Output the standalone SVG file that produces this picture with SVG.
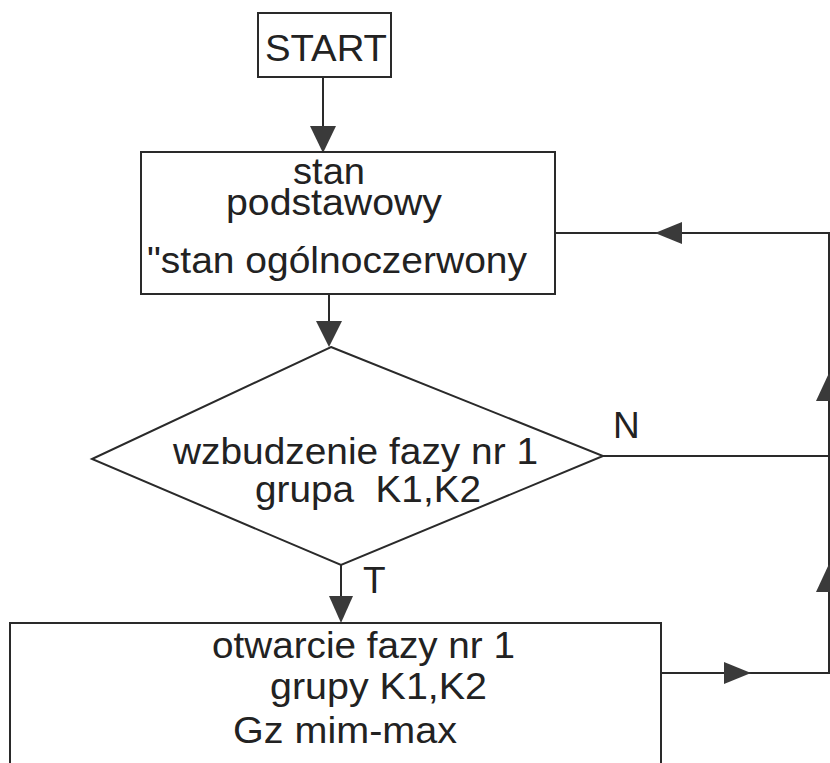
<svg xmlns="http://www.w3.org/2000/svg" width="830" height="763" viewBox="0 0 830 763">
<defs>
<style>
.box{fill:#fff;stroke:#2a2a2a;stroke-width:2}
.ln{fill:none;stroke:#2a2a2a;stroke-width:2}
.ah{fill:#3a3a3a;stroke:none}
.t{font-family:"Liberation Sans",Arial,sans-serif;font-size:37px;fill:#222}
</style>
</defs>
<rect width="830" height="763" fill="#fff"/>
<g id="connectors">
<line class="ln" x1="323" y1="77" x2="323" y2="150"/>
<polygon class="ah" points="310,126 336,126 323,153"/>
<line class="ln" x1="329" y1="294" x2="329" y2="344"/>
<polygon class="ah" points="316,321 342,321 329,347"/>
<line class="ln" x1="341" y1="565" x2="341" y2="620"/>
<polygon class="ah" points="329,596 353,596 341,623"/>
<polyline class="ln" points="555,233 829,233 829,673 661,673"/>
<line class="ln" x1="603" y1="456" x2="829" y2="456"/>
<polygon class="ah" points="655,233 682,222 682,244"/>
<polygon class="ah" points="751,673 724,662 724,684"/>
<polygon class="ah" points="829,373 816,401 842,401"/>
<polygon class="ah" points="829,564 816,592 842,592"/>
<text class="t" x="613" y="438" font-size="36">N</text>
<text class="t" x="363" y="593" font-size="36">T</text>
</g>
<g id="start">
<rect class="box" x="258" y="13" width="133" height="64"/>
<text class="t" x="265" y="61" font-size="40" textLength="122" lengthAdjust="spacingAndGlyphs">START</text>
</g>
<g id="stan-podstawowy">
<rect class="box" x="141" y="152" width="414" height="142"/>
<text class="t" x="293" y="184" font-size="35" textLength="72" lengthAdjust="spacingAndGlyphs">stan</text>
<text class="t" x="226" y="215" font-size="35" textLength="216" lengthAdjust="spacingAndGlyphs">podstawowy</text>
<text class="t" x="147" y="273" textLength="380" lengthAdjust="spacingAndGlyphs">"stan ogólnoczerwony</text>
</g>
<g id="wzbudzenie">
<polygon class="box" points="331,347 603,456 341,565 92,459"/>
<text class="t" x="173" y="464" textLength="365" lengthAdjust="spacingAndGlyphs">wzbudzenie fazy nr 1</text>
<text class="t" x="255" y="502" textLength="226" lengthAdjust="spacingAndGlyphs" xml:space="preserve">grupa  K1,K2</text>
</g>
<g id="otwarcie">
<rect class="box" x="10" y="623" width="651" height="170"/>
<text class="t" x="212" y="658" font-size="38" textLength="303" lengthAdjust="spacingAndGlyphs">otwarcie fazy nr 1</text>
<text class="t" x="270" y="699" font-size="38" textLength="217" lengthAdjust="spacingAndGlyphs">grupy K1,K2</text>
<text class="t" x="233" y="743" font-size="38" textLength="224" lengthAdjust="spacingAndGlyphs">Gz mim-max</text>
</g>
</svg>
